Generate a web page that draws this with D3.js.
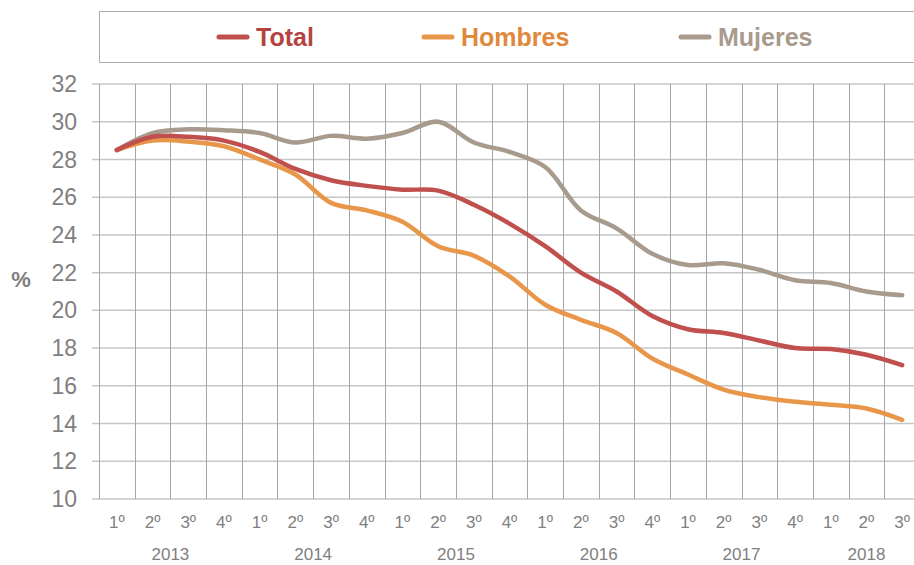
<!DOCTYPE html>
<html>
<head>
<meta charset="utf-8">
<script src="https://cdn.jsdelivr.net/npm/d3@7"></script>
<style>
  body { margin: 0; background: #fff; }
  svg { font-family: "Liberation Sans", Arial, sans-serif; display: block; }
</style>
</head>
<body>
<svg id="chart"></svg>
<script>
// data
const quarters = ["1º","2º","3º","4º","1º","2º","3º","4º","1º","2º","3º","4º",
                  "1º","2º","3º","4º","1º","2º","3º","4º","1º","2º","3º"];
const years = [
  { label: "2013", from: 0, to: 3 },
  { label: "2014", from: 4, to: 7 },
  { label: "2015", from: 8, to: 11 },
  { label: "2016", from: 12, to: 15 },
  { label: "2017", from: 16, to: 19 },
  { label: "2018", from: 20, to: 22 }
];
const total   = [28.5, 29.2, 29.2, 29.0, 28.4, 27.5, 26.9, 26.6, 26.4, 26.35, 25.6, 24.6,
                 23.4, 22.0, 21.0, 19.7, 19.0, 18.8, 18.4, 18.0, 17.95, 17.65, 17.1];
const hombres = [28.5, 29.0, 28.95, 28.7, 28.0, 27.2, 25.7, 25.3, 24.7, 23.4, 22.9, 21.8,
                 20.3, 19.5, 18.8, 17.45, 16.6, 15.8, 15.4, 15.15, 15.0, 14.8, 14.2];
const mujeres = [28.5, 29.4, 29.6, 29.55, 29.4, 28.9, 29.25, 29.1, 29.4, 30.0, 28.9, 28.4,
                 27.6, 25.3, 24.35, 23.0, 22.4, 22.5, 22.15, 21.6, 21.45, 21.0, 20.8];
const yTicks = [10, 12, 14, 16, 18, 20, 22, 24, 26, 28, 30, 32];

const series = [
  { name: "Total",   values: total,   color: "#c0504d", text: "#b5433f" },
  { name: "Hombres", values: hombres, color: "#e8974a", text: "#e0883c" },
  { name: "Mujeres", values: mujeres, color: "#a89b8e", text: "#a89a8c" }
];

const W = 914, H = 565;
const svg = d3.select("#chart").attr("width", W).attr("height", H);

const plotLeft = 99, plotRight = 920, plotTop = 84, plotBottom = 499;

const x = d3.scaleBand()
  .domain(d3.range(quarters.length))
  .range([plotLeft, plotRight]);

const y = d3.scaleLinear()
  .domain([10, 32])
  .range([plotBottom, plotTop]);

// horizontal gridlines
svg.append("g")
  .selectAll("line")
  .data(yTicks)
  .enter()
  .append("line")
  .attr("x1", plotLeft - 7)
  .attr("x2", W)
  .attr("y1", d => y(d))
  .attr("y2", d => y(d))
  .attr("stroke", "#c6c6c6")
  .attr("stroke-width", 1.5);

// vertical gridlines at band edges
svg.append("g")
  .selectAll("line")
  .data(d3.range(quarters.length + 1))
  .enter()
  .append("line")
  .attr("x1", i => Math.round(plotLeft + i * x.step()) + 0.5)
  .attr("x2", i => Math.round(plotLeft + i * x.step()) + 0.5)
  .attr("y1", plotTop)
  .attr("y2", plotBottom)
  .attr("stroke", "#a6a6a6")
  .attr("stroke-width", 1);

// y tick labels
svg.append("g")
  .selectAll("text")
  .data(yTicks)
  .enter()
  .append("text")
  .attr("x", 77)
  .attr("y", d => y(d))
  .attr("dy", "0.35em")
  .attr("text-anchor", "end")
  .attr("fill", "#7f7f7f")
  .style("font-size", "23px")
  .text(d => d);

svg.append("text")
  .attr("x", 21)
  .attr("y", 279)
  .attr("dy", "0.35em")
  .attr("text-anchor", "middle")
  .attr("fill", "#7f7f7f")
  .style("font-size", "22px")
  .style("font-weight", "bold")
  .text("%");

// quarter labels
svg.append("g")
  .selectAll("text")
  .data(quarters)
  .enter()
  .append("text")
  .attr("x", (d, i) => x(i) + x.bandwidth() / 2)
  .attr("y", 522)
  .attr("dy", "0.35em")
  .attr("text-anchor", "middle")
  .attr("fill", "#808080")
  .style("font-size", "17px")
  .text(d => d);

// year labels
svg.append("g")
  .selectAll("text")
  .data(years)
  .enter()
  .append("text")
  .attr("x", d => (x(d.from) + x(d.to) + x.bandwidth()) / 2)
  .attr("y", 554)
  .attr("dy", "0.35em")
  .attr("text-anchor", "middle")
  .attr("fill", "#808080")
  .style("font-size", "17px")
  .text(d => d.label);

// lines
const line = d3.line()
  .x((d, i) => x(i) + x.bandwidth() / 2)
  .y(d => y(d))
  .curve(d3.curveCatmullRom.alpha(0.5));

svg.append("g")
  .selectAll("path")
  .data(series.slice().reverse())
  .enter()
  .append("path")
  .attr("d", d => line(d.values))
  .attr("fill", "none")
  .attr("stroke", d => d.color)
  .attr("stroke-width", 4.5)
  .attr("stroke-linecap", "round")
  .attr("stroke-linejoin", "round");

// legend
svg.append("rect")
  .attr("x", 99.5)
  .attr("y", 11.5)
  .attr("width", 830)
  .attr("height", 51)
  .attr("fill", "#fff")
  .attr("stroke", "#b3aba1")
  .attr("stroke-width", 1);

const legendX = [219, 424, 681];
const item = svg.append("g")
  .selectAll("g")
  .data(series)
  .enter()
  .append("g")
  .attr("transform", (d, i) => `translate(${legendX[i]},37)`);

item.append("line")
  .attr("x1", 0).attr("x2", 28)
  .attr("y1", 0).attr("y2", 0)
  .attr("stroke", d => d.color)
  .attr("stroke-width", 5)
  .attr("stroke-linecap", "round");

item.append("text")
  .attr("x", 37)
  .attr("y", 0)
  .attr("dy", "0.36em")
  .attr("fill", d => d.text)
  .style("font-size", "25px")
  .style("font-weight", "bold")
  .text(d => d.name);
</script>
</body>
</html>
